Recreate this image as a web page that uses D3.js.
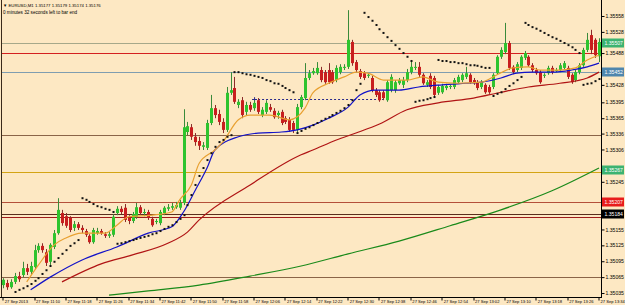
<!DOCTYPE html>
<html>
<head>
<meta charset="utf-8">
<script src="https://cdn.jsdelivr.net/npm/d3@7"></script>
<style>
body { margin: 0; background: #fde8c3; }
svg { display: block; font-family: "Liberation Sans", Arial, sans-serif; }
</style>
</head>
<body>
<svg id="chart" width="625" height="305"></svg>
<script>
// all prices in points above 1.35000 (1 point = 0.00001)

//------------------- candles, EURUSD M1, 11:02 -> 13:34 -------------------
const opens = [
  50,54,46,56,67,69,82,75,84,116, 124,112,94,122,148,186,180,177,158,165,
  158,152,143,131,148,152,146,143,145,186, 194,196,177,171,179,197,186,188,175,169,
  167,186,194,196,197,196,205,339,348,330, 322,311,309,356,384,373,358,343,413,422,
  390,399,377,390,384,399,371,377,386,379, 371,377,365,362,356,343,386,403,441,450,
  450,456,452,456,452,437,452,460,462,509, 471,454,450,445,441,418,414,414,399,418,
  418,431,428,437,452,460,462,447,428,445, 441,413,414,422,424,424,433,437,443,447,
  437,433,424,428,424,424,450,481,490,507, 462,456,460,479,481,465,456,452,445,450,
  460,454,456,460,460,447,437,452,465,494, 522,513,482
];
const highs = [
  63,60,61,73,75,94,90,94,126,129, 129,118,129,154,214,192,186,180,171,169,
  163,156,146,158,158,156,150,150,184,199, 199,203,182,188,205,201,194,192,179,175,
  192,199,203,205,207,211,382,358,354,337, 330,320,362,409,390,381,365,424,452,443,
  401,405,396,396,399,403,386,399,392,384, 379,381,369,367,360,392,409,469,456,460,
  471,462,456,469,456,465,467,467,569,513, 475,458,454,450,445,422,418,418,437,448,
  437,441,443,458,475,471,471,450,437,450, 445,428,430,430,428,441,447,450,462,450,
  441,437,437,431,428,450,484,499,545,511, 465,471,484,492,484,469,460,456,450,464,
  464,460,469,473,464,450,456,469,498,526, 532,516,516
];
const lows = [
  44,41,43,52,56,65,69,71,80,111, 111,86,88,118,145,162,158,150,152,154,
  148,141,128,128,145,145,139,139,141,182, 184,169,165,167,175,182,180,173,160,165,
  163,182,190,192,194,192,201,333,324,313, 305,305,305,352,365,352,337,339,409,392,
  384,365,371,377,379,373,367,373,377,364, 364,352,354,339,337,339,382,399,437,447,
  447,433,430,430,430,433,448,456,458,464, 452,439,437,441,414,405,396,399,396,414,
  413,428,422,433,448,456,443,428,424,420, 405,409,411,418,420,420,430,433,439,430,
  428,418,420,411,411,420,447,477,486,456, 448,452,456,475,462,452,447,430,441,447,
  448,452,452,456,439,430,433,448,462,490, 486,479,471
];
const closes = [
  60,46,56,67,61,82,75,86,116,124, 116,92,126,148,192,167,162,154,165,158,
  154,145,131,154,152,148,143,146,179,194, 188,173,171,184,197,186,188,177,163,171,
  188,196,197,199,201,205,348,350,330,320, 313,314,356,384,371,358,343,413,418,396,
  396,371,390,381,394,377,381,394,381,367, 375,356,358,343,343,386,405,441,450,454,
  460,437,433,433,433,460,462,462,513,469, 456,443,441,447,418,409,399,403,433,443,
  433,437,437,452,462,462,447,431,433,424, 409,424,426,426,426,437,443,447,450,433,
  431,422,433,414,414,447,481,494,507,460, 452,467,481,488,465,456,450,433,447,460,
  452,456,465,469,443,433,452,465,494,513, 494,484,509
];

// parabolic SAR, one value per bar (null = off chart)
const sar = [
  null,null,null,
  37,41,44,48,52,58,63,71,78,86,94,101,109,116,124,129,135,
  214,211,207,203,199,197,194,192,188,
  128,129,131,133,135,137,139,141,143,146,148,152,156,160,163,169,175,182,
  201,220,239,256,271,286,299,311,320,324,330,333,
  452,452,450,448,447,445,443,441,437,435,431,430,426,422,418,414,
  337,341,345,348,352,356,360,364,367,371,375,379,384,390,
  399,418,430,
  564,556,549,541,533,526,518,511,503,496,488,481,473,
  396,398,399,401,403,405,
  475,473,473,471,471,469,469,467,465,465,464,462,460,460,
  407,411,414,420,426,431,437,443,
  545,541,537,534,530,526,522,518,515,511,507,503,499,494,488,
  428,430,431,435,439
];

// moving averages: [bar, value]
const maFast = [[6,56],[9,88],[13,126],[16,139],[20,148],[26,148],[29,163],[32,179],[38,182],[43,188],
  [45,211],[48,239],[50,280],[54,305],[56,320],[60,362],[63,371],[68,371],[73,362],[77,384],[79,413],
  [83,431],[87,443],[90,452],[93,450],[97,437],[103,437],[107,443],[111,433],[116,431],[122,433],
  [126,447],[130,460],[134,462],[137,456],[142,456],[146,460],[149,475],[152,484]];
const maMid = [[7,41],[12,65],[20,97],[29,122],[37,148],[43,160],[46,188],[49,229],[52,271],[54,305],
  [60,330],[65,337],[71,339],[75,343],[79,352],[83,365],[88,386],[91,409],[95,418],[101,418],[106,424],
  [112,428],[118,431],[122,433],[127,441],[131,450],[135,452],[140,452],[145,456],[149,462],[152,469]];
const maSlow = [[15,56],[25,90],[33,107],[42,129],[47,150],[50,173],[63,239],[76,296],[79,305],[85,324],
  [90,337],[96,354],[103,381],[111,394],[120,403],[127,414],[134,424],[142,431],[149,441],[152,452]];
const maLong = [[27,31],[37,39],[50,50],[63,67],[76,86],[88,109],[101,133],[114,162],[127,192],[140,228],[152,271]];

// horizontal line objects
const hLevels = [507, 488, 452, 333, 263, 207, 184, 179, 65];
const hColors = ["#a6a88a", "#d42020", "#7f9db0", "#8a6448", "#d4a414", "#b4503a", "#5a2e1e", "#a01c1c", "#8a6448"];
const dashLevel = 401, dashFrom = 64, dashTo = 98;

// price boxes on the axis
const boxLevels = [507, 452, 267, 207, 184];
const boxColors = ["#3cb371", "#4f86ad", "#3cb371", "#e81c1c", "#000000"];

// axis ticks (the ones under the price boxes are not shown)
const yTicks = [558, 528, 488, 428, 395, 365, 336, 306, 245, 155, 125, 95, 65, 35];
const xTickBars = [0,8,16,24,32,40,48,56,64,72,80,88,96,104,112,120,128,136,144,152];
const xTickLabels = ["27 Sep 2013","27 Sep 11:10","27 Sep 11:18","27 Sep 11:26","27 Sep 11:34",
  "27 Sep 11:42","27 Sep 11:50","27 Sep 11:58","27 Sep 12:06","27 Sep 12:14","27 Sep 12:22",
  "27 Sep 12:30","27 Sep 12:38","27 Sep 12:46","27 Sep 12:54","27 Sep 13:02","27 Sep 13:10",
  "27 Sep 13:18","27 Sep 13:26","27 Sep 13:34"];

const header1 = "\u25BC EURUSD,M1  1.35177 1.35179 1.35174 1.35176";
const header2 = "0 minutes 32 seconds left to bar end";

//------------------- setup -------------------
const svg = d3.select("#chart");
const plotRight = 601, plotBottom = 297;
const fmt = v => (1.35 + v / 1e5).toFixed(5);

const x = d3.scaleLinear().domain([0, 152]).range([3.2, 599]);
const y = d3.scaleLinear().domain([27.5, 588.2]).range([plotBottom, 0]);

svg.append("rect").attr("width", 625).attr("height", 305).attr("fill", "#fde8c3");

svg.append("defs").append("clipPath").attr("id", "plot")
  .append("rect").attr("x", 2).attr("y", 0).attr("width", plotRight - 2).attr("height", plotBottom);

const plot = svg.append("g").attr("clip-path", "url(#plot)");

// horizontal lines
plot.selectAll("line.h").data(hLevels).join("line")
  .attr("x1", 0).attr("x2", plotRight)
  .attr("y1", d => Math.round(y(d)) + 0.5).attr("y2", d => Math.round(y(d)) + 0.5)
  .attr("stroke", (d, i) => hColors[i]).attr("stroke-width", 1);

// dashed line with a cross at its start
plot.append("line")
  .attr("x1", x(dashFrom)).attr("x2", x(dashTo))
  .attr("y1", Math.round(y(dashLevel)) + 0.5).attr("y2", Math.round(y(dashLevel)) + 0.5)
  .attr("stroke", "#2a2a8a").attr("stroke-dasharray", "2,2");
plot.append("path")
  .attr("d", `M${x(dashFrom) - 2},${Math.round(y(dashLevel)) + 0.5}h5M${x(dashFrom) + 0.5},${y(dashLevel) - 2}v5`)
  .attr("stroke", "#2a2a8a");

// moving averages
const line = d3.line().x(d => x(d[0])).y(d => y(d[1])).curve(d3.curveMonotoneX);
const mas = [[maLong, "#1a8a1a"], [maSlow, "#b01414"], [maMid, "#1212c8"], [maFast, "#e8a030"]];

// candles
const bars = d3.range(opens.length);
plot.selectAll("line.wick").data(bars).join("line")
  .attr("x1", i => Math.round(x(i)) + 0.5).attr("x2", i => Math.round(x(i)) + 0.5)
  .attr("y1", i => y(highs[i])).attr("y2", i => y(lows[i]))
  .attr("stroke", i => closes[i] >= opens[i] ? "#3a8a3a" : "#8a2a2a");

plot.selectAll("rect.body").data(bars).join("rect")
  .attr("x", i => Math.round(x(i)) - 1)
  .attr("width", 3)
  .attr("y", i => y(Math.max(opens[i], closes[i])))
  .attr("height", i => Math.max(1, Math.abs(y(opens[i]) - y(closes[i]))))
  .attr("fill", i => closes[i] >= opens[i] ? "#2ec42e" : "#c81e1e");

mas.forEach(([pts, col]) => {
  plot.append("path").datum(pts).attr("d", line)
    .attr("fill", "none").attr("stroke", col).attr("stroke-width", 1.2);
});

// parabolic SAR dots
plot.selectAll("rect.sar").data(bars.filter(i => sar[i] != null)).join("rect")
  .attr("x", i => Math.round(x(i)) - 0.5).attr("y", i => y(sar[i]) - 1)
  .attr("width", 2).attr("height", 2).attr("fill", "#111");

//------------------- axes -------------------
svg.append("line").attr("x1", 1.5).attr("x2", 1.5).attr("y1", 0).attr("y2", plotBottom).attr("stroke", "#3a2a1a");

const yAxis = svg.append("g").attr("transform", `translate(${plotRight + 0.5},0)`)
  .call(d3.axisRight(y).tickValues(yTicks).tickFormat(fmt).tickSize(3).tickSizeOuter(0).tickPadding(1));
yAxis.select(".domain").remove();
yAxis.selectAll("line").attr("stroke", "#000");
yAxis.selectAll("text").attr("font-size", 5.1).attr("fill", "#000").attr("font-family", "Liberation Sans");

const xAxis = svg.append("g").attr("transform", `translate(0,${plotBottom + 0.5})`)
  .call(d3.axisBottom(x).tickValues(xTickBars).tickFormat((d, i) => xTickLabels[i]).tickSize(3).tickSizeOuter(0));
xAxis.select(".domain").remove();
xAxis.selectAll("line").attr("stroke", "#000").attr("transform", d => `translate(${-x(d) + Math.round(x(d)) - 0.5},0)`);
xAxis.selectAll("text")
  .attr("text-anchor", "start").attr("dx", "1").attr("y", 2.5).attr("dy", "0.71em")
  .attr("font-size", 4.1).attr("fill", "#000").attr("font-family", "Liberation Sans");

svg.append("line").attr("x1", plotRight + 0.5).attr("x2", plotRight + 0.5).attr("y1", 0).attr("y2", plotBottom + 1).attr("stroke", "#000");
svg.append("line").attr("x1", 0).attr("x2", plotRight + 1).attr("y1", plotBottom + 0.5).attr("y2", plotBottom + 0.5).attr("stroke", "#000");

// price boxes
const boxes = svg.selectAll("g.box").data(boxLevels).join("g")
  .attr("transform", d => `translate(${plotRight + 1},${Math.round(y(d))})`);
boxes.append("rect").attr("x", 0).attr("y", -4.5).attr("width", 22).attr("height", 9)
  .attr("fill", (d, i) => boxColors[i]);
boxes.append("text").attr("x", 2.5).attr("y", 2).attr("font-size", 5.1).attr("fill", "#fff")
  .text(d => fmt(d));

// header
svg.append("text").attr("x", 3).attr("y", 6.5).attr("font-size", 4.3).attr("fill", "#000").text(header1);
svg.append("text").attr("x", 3).attr("y", 13.5).attr("font-size", 4.6).attr("fill", "#000").text(header2);
</script>
</body>
</html>
